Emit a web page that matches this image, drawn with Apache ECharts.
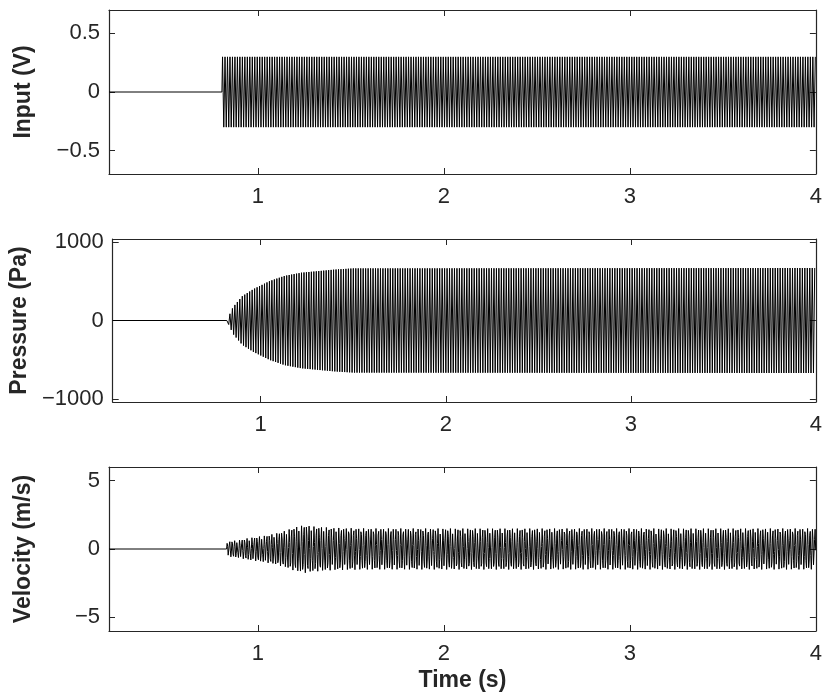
<!DOCTYPE html>
<html>
<head>
<meta charset="utf-8">
<script src="https://cdn.jsdelivr.net/npm/echarts@6/dist/echarts.min.js"></script>
<style>html,body{margin:0;padding:0;background:#fff}#c{width:825px;height:695px}</style>
</head>
<body>
<div id="c"></div>
<script>
// ---- data ----
const timeRange = [0.2, 4];
const timeTicks = [1, 2, 3, 4];
const carrierHz = 75;            // oscillation rate

const inputRange = [-0.7, 0.7];
const inputTicks = [-0.5, 0, 0.5];
const inputEnvT = [0.807, 4.0];
const inputEnvA = [0.3, 0.3];

const pressureRange = [-1040, 1040];
const pressureTicks = [-1000, 0, 1000];
const pressureEnvT = [0.817, 0.85, 0.90, 0.96, 1.05, 1.13, 1.22, 1.40, 1.50, 4.0];
const pressureEnvA = [0, 170, 310, 400, 505, 570, 610, 650, 665, 670];

const velocityRange = [-6, 6];
const velocityTicks = [-5, 0, 5];
const velocityEnvT = [0.832, 0.84, 0.90, 0.95, 1.00, 1.05, 1.10, 1.15, 1.20, 1.25, 1.30, 1.40, 1.60, 4.0];
const velocityEnvA = [0.35, 0.55, 0.65, 0.8, 0.9, 1.0, 1.15, 1.35, 1.6, 1.75, 1.65, 1.55, 1.5, 1.5];

const yNames = ['Input (V)', 'Pressure (Pa)', 'Velocity (m/s)'];
const xName = 'Time (s)';

// ---- build traces from the envelopes ----
function env(T, A, t) {
  if (t <= T[0]) return A[0];
  for (let i = 1; i < T.length; i++) {
    if (t <= T[i]) { const f = (t - T[i-1]) / (T[i] - T[i-1]); return A[i-1] + f * (A[i] - A[i-1]); }
  }
  return A[A.length - 1];
}
function peaksTrace(T, A) {
  const pts = [[timeRange[0], 0], [T[0], 0]];
  const half = 1 / (2 * carrierHz);
  let k = 0;
  for (let t = T[0] + half / 2; t <= timeRange[1]; t += half, k++) {
    pts.push([t, (k % 2 ? -1 : 1) * env(T, A, t)]);
  }
  return pts;
}
function sampledTrace(T, A, dt) {
  const pts = [[timeRange[0], 0], [T[0], 0]];
  for (let t = T[0]; t <= timeRange[1]; t += dt) {
    pts.push([t, env(T, A, t) * Math.sin(2 * Math.PI * carrierHz * (t - T[0]))]);
  }
  return pts;
}
const traces = [
  peaksTrace(inputEnvT, inputEnvA),
  peaksTrace(pressureEnvT, pressureEnvA),
  sampledTrace(velocityEnvT, velocityEnvA, 0.0029)
];
const ranges = [inputRange, pressureRange, velocityRange];
const yTicks = [inputTicks, pressureTicks, velocityTicks];

const grids = [
  {left: 109, right: 7, top: 10, height: 164},
  {left: 109, right: 7, top: 239, height: 163},
  {left: 109, right: 7, top: 467, height: 164}
];
const axisColor = '#262626';
const font = 'Liberation Sans, Arial, sans-serif';
const xAxes = [], yAxes = [], series = [];
for (let i = 0; i < 3; i++) {
  const tickCommon = {show: true, inside: true, length: 6, lineStyle: {color: axisColor, width: 1}};
  xAxes.push({
    type: 'value', gridIndex: i, min: timeRange[0], max: timeRange[1], position: 'bottom',
    axisLine: {show: true, onZero: false, lineStyle: {color: axisColor, width: 1.2}},
    axisTick: Object.assign({customValues: timeTicks}, tickCommon),
    axisLabel: {customValues: timeTicks, color: axisColor, fontSize: 22, fontFamily: font, margin: 12},
    splitLine: {show: false},
    name: i === 2 ? xName : '', nameLocation: 'middle', nameGap: 38,
    nameTextStyle: {fontSize: 23, fontWeight: 'bold', color: axisColor, fontFamily: font}
  });
  xAxes.push({
    type: 'value', gridIndex: i, min: timeRange[0], max: timeRange[1], position: 'top',
    axisLine: {show: true, onZero: false, lineStyle: {color: axisColor, width: 1.2}},
    axisTick: Object.assign({customValues: timeTicks}, tickCommon),
    axisLabel: {show: false}, splitLine: {show: false}
  });
  yAxes.push({
    type: 'value', gridIndex: i, min: ranges[i][0], max: ranges[i][1], position: 'left',
    axisLine: {show: true, onZero: false, lineStyle: {color: axisColor, width: 1.2}},
    axisTick: Object.assign({customValues: yTicks[i]}, tickCommon),
    axisLabel: {customValues: yTicks[i], color: axisColor, fontSize: 22, fontFamily: font, margin: 9,
      formatter: v => (v < 0 ? '\u2212' + Math.abs(v) : String(v))},
    splitLine: {show: false},
    name: yNames[i], nameLocation: 'middle', nameRotate: 90, nameGap: 74,
    nameTextStyle: {fontSize: 23, fontWeight: 'bold', color: axisColor, fontFamily: font}
  });
  yAxes.push({
    type: 'value', gridIndex: i, min: ranges[i][0], max: ranges[i][1], position: 'right',
    axisLine: {show: true, onZero: false, lineStyle: {color: axisColor, width: 1.2}},
    axisTick: Object.assign({customValues: yTicks[i]}, tickCommon),
    axisLabel: {show: false}, splitLine: {show: false}
  });
  series.push({
    type: 'line', xAxisIndex: 2 * i, yAxisIndex: 2 * i, data: traces[i],
    showSymbol: false, symbol: 'none', sampling: null, smooth: false,
    lineStyle: {color: '#000', width: 1}, silent: true, animation: false
  });
}
const chart = echarts.init(document.getElementById('c'), null, {renderer: 'canvas'});
chart.setOption({
  animation: false, backgroundColor: '#fff',
  grid: grids, xAxis: xAxes, yAxis: yAxes, series: series
});
</script>
</body>
</html>
